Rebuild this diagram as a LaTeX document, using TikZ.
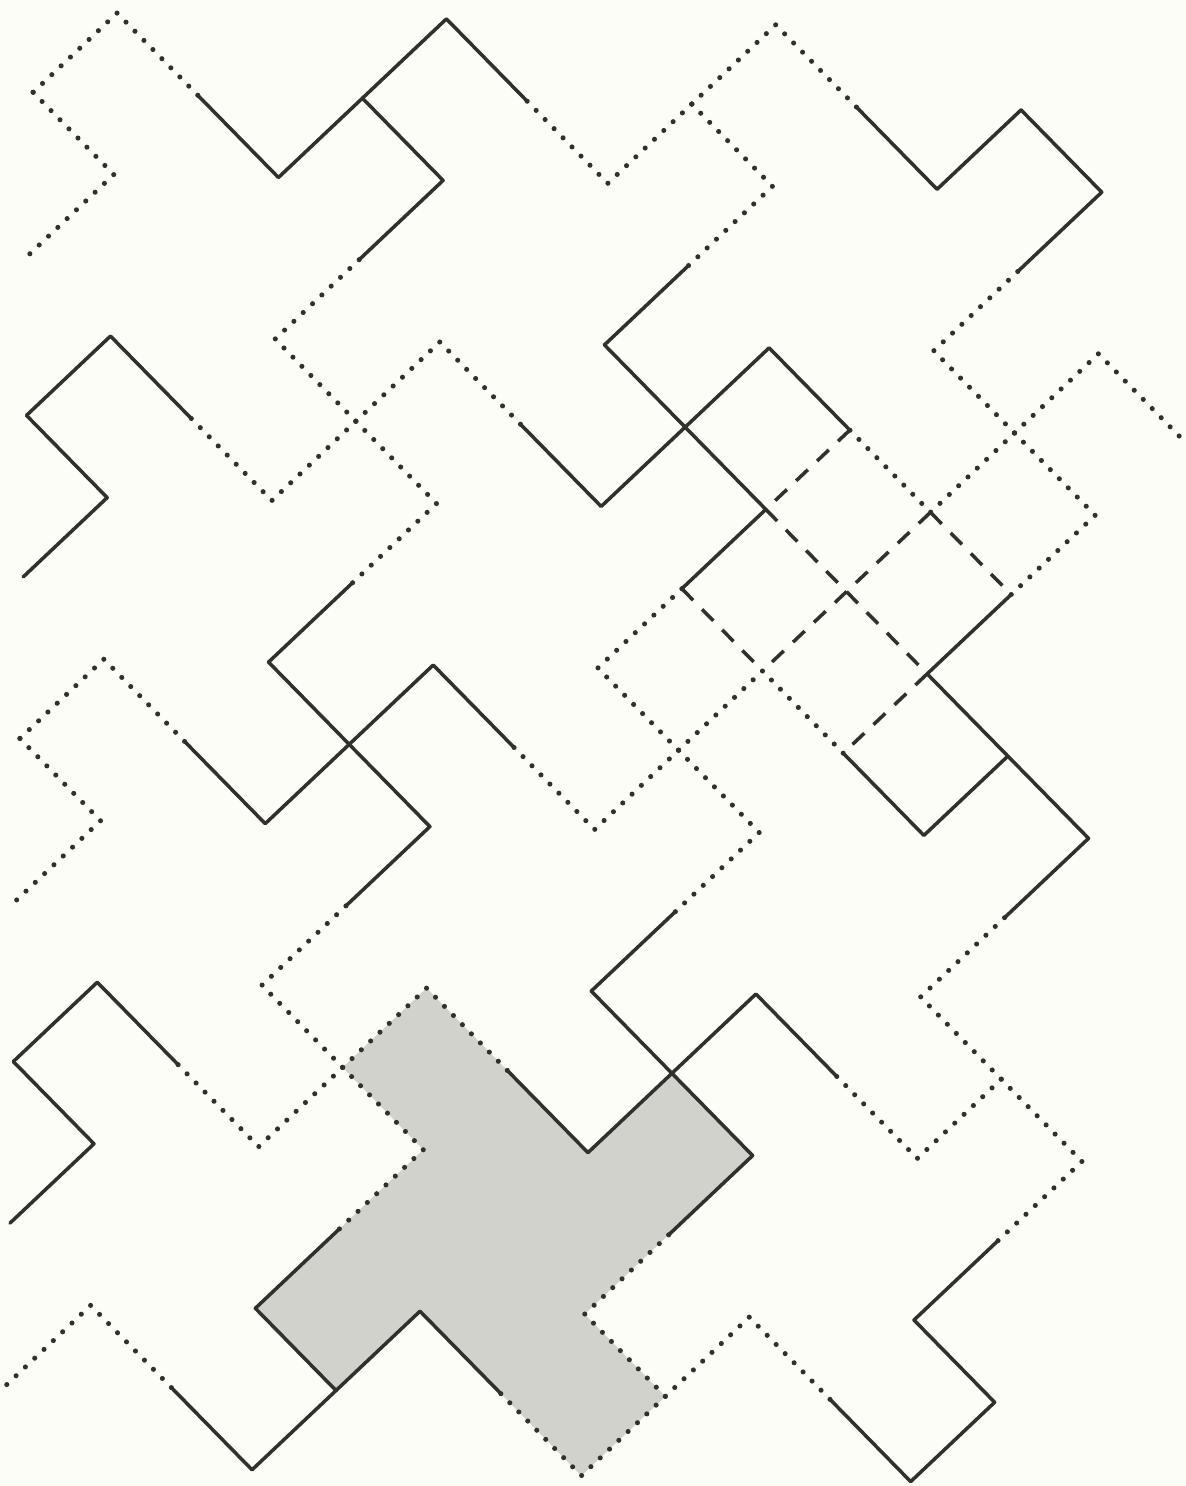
\documentclass[tikz,border=0pt]{standalone}
\usepackage{xcolor}
\usepackage{tikz}

\definecolor{ink}{RGB}{50,48,44}
\definecolor{paper}{RGB}{253,253,248}
\definecolor{stipple}{RGB}{210,210,204}

\tikzset{
  solidline/.style={draw=ink, line width=1pt, line cap=round, line join=round},
  dotline/.style={draw=ink, line width=1.45pt, line cap=round, dash pattern=on 0pt off 3.645pt},
  dashline/.style={draw=ink, line width=1pt, dash pattern=on 4.6pt off 3.6pt},
}

% right and lower part of a tile outline, apex at (#1,#2)
% #3 = style of the two arm ends, #4 = style of the middle run
\newcommand{\tileedges}[4]{%
  \begin{scope}[shift={(#1,#2)}]
    \draw[#3] (2,-1) -- (3,-1) -- (3,0);
    \draw[#4] (3,0) -- (3,1) -- (4,1) -- (4,2) -- (3,2);
    \draw[#3] (3,2) -- (2,2) -- (2,3);
  \end{scope}}

\begin{document}
\begin{tikzpicture}
\fill[paper] (0,0) rectangle (11.86,14.86);
\useasboundingbox (0,0) rectangle (11.86,14.86);
% grid: x = one square down-right, y = one square down-left
\begin{scope}[shift={(4.266,4.9785)}, x={(0.8068cm,-0.8224cm)}, y={(-0.8398cm,-0.7930cm)}]
  % shaded tile
  \fill[stipple] (0,0) -- (2,0) -- (2,-1) -- (3,-1) -- (3,1) -- (4,1) -- (4,2)
    -- (2,2) -- (2,3) -- (1,3) -- (1,1) -- (0,1) -- cycle;
  % inner tiles, each draws the edges it shares with its right and lower neighbour
  \foreach \i in {-1,0,1}{
    \foreach \j in {-3,-2,-1,0}{
      \pgfmathtruncatemacro{\ta}{2*\i+2*\j}
      \pgfmathtruncatemacro{\tb}{2*\j-2*\i}
      \pgfmathtruncatemacro{\kind}{mod(\i+\j+10,2)}
      \ifnum\kind=0
        \tileedges{\ta}{\tb}{solidline}{dotline}
      \else
        \tileedges{\ta}{\tb}{dotline}{solidline}
      \fi
    }
  }
  % left border
  \draw[dotline] (-8,-3) -- (-7,-3) -- (-7,-2);
  \draw[solidline] (-6,-1) -- (-5,-1) -- (-5,0);
  \draw[dotline] (-4,1) -- (-3,1) -- (-3,2);
  \draw[solidline] (-2,3) -- (-1,3) -- (-1,4);
  % top border
  \draw[solidline] (-6,-5) -- (-6,-4) -- (-7,-4);
  \draw[dotline] (-7,-4) -- (-8,-4) -- (-8,-3);
  \draw[dotline] (-4,-7) -- (-4,-6) -- (-5,-6);
  \draw[solidline] (-5,-6) -- (-6,-6) -- (-6,-5);
  \draw[solidline] (-2,-9) -- (-2,-8) -- (-3,-8);
  \draw[dotline] (-3,-8) -- (-4,-8) -- (-4,-7);
  % right border
  \draw[dotline] (1,-8) -- (0,-8) -- (0,-7);
  % centre square of one tile cut into four
  \begin{scope}[shift={(-2,-6)}]
    \draw[dashline] (1,1) -- (3,1);
    \draw[dashline] (2,0) -- (2,2);
    \draw[dashline] (1,0) -- (1,1);
    \draw[dashline] (2,0) -- (3,0);
    \draw[dashline] (1,2) -- (2,2);
    \draw[dashline] (3,1) -- (3,2);
  \end{scope}
\end{scope}
\end{tikzpicture}
\end{document}
